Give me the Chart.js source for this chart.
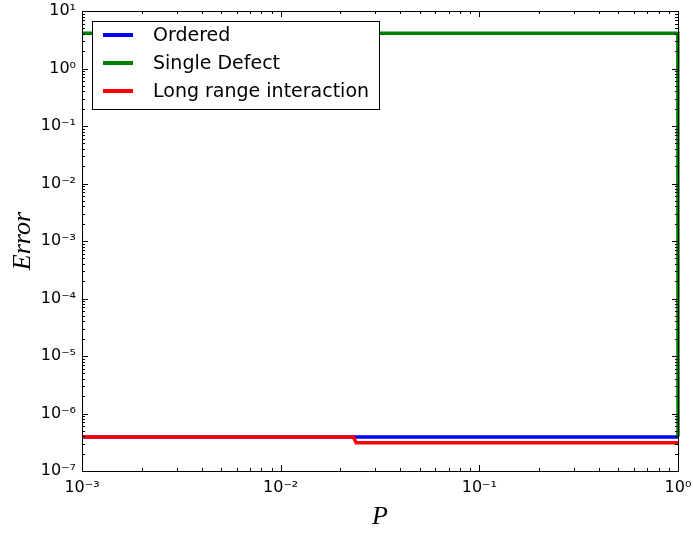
<!DOCTYPE html>
<html><head><meta charset="utf-8">
<script src="https://cdn.jsdelivr.net/npm/chart.js@4/dist/chart.umd.min.js"></script>
<style>html,body{margin:0;padding:0;background:#fff}#wrap{width:693px;height:533px}</style>
</head><body><div id="wrap"><canvas id="c" width="693" height="533"></canvas></div>
<script>
const seriesNames = ["Ordered", "Single Defect", "Long range interaction"];
const seriesColors = ["#0000ff", "#008000", "#ff0000"];
const P_ordered = [1e-3, 1];
const E_ordered = [3.9e-7, 3.9e-7];
const P_single = [1e-3, 0.998, 1];
const E_single = [4.1, 4.1, 4.0e-7];
const P_long = [1e-3, 0.0232, 0.0240, 1];
const E_long = [3.9e-7, 3.9e-7, 3.1e-7, 3.1e-7];
const xDecades = [-3, -2, -1, 0];
const yDecades = [-7, -6, -5, -4, -3, -2, -1, 0, 1];

const sup = {"-":"\u207B","0":"\u2070","1":"\u00B9","2":"\u00B2","3":"\u00B3","4":"\u2074","5":"\u2075","6":"\u2076","7":"\u2077","8":"\u2078","9":"\u2079"};
function pow10Label(v){const e=Math.round(Math.log10(v));return "10"+String(e).split("").map(c=>sup[c]).join("");}
function pts(xs, ys){return xs.map((x,i)=>({x:x,y:ys[i]}));}

const tickPlugin = {
  id:'innerTicks',
  afterDatasetsDraw(chart){
    const ctx=chart.ctx, a=chart.chartArea, xs=chart.scales.x, ys=chart.scales.y;
    ctx.save();
    ctx.strokeStyle='#000'; ctx.lineWidth=1;
    function minorVals(decs){const out=[];for(let i=0;i<decs.length-1;i++){for(let m=2;m<=9;m++)out.push(m*Math.pow(10,decs[i]));}return out;}
    ctx.beginPath();
    xDecades.forEach(d=>{const px=Math.round(xs.getPixelForValue(Math.pow(10,d)))+0.5;ctx.moveTo(px,a.bottom);ctx.lineTo(px,a.bottom-6);ctx.moveTo(px,a.top);ctx.lineTo(px,a.top+6);});
    minorVals(xDecades).forEach(v=>{const px=Math.round(xs.getPixelForValue(v))+0.5;ctx.moveTo(px,a.bottom);ctx.lineTo(px,a.bottom-3);ctx.moveTo(px,a.top);ctx.lineTo(px,a.top+3);});
    yDecades.forEach(d=>{const py=Math.round(ys.getPixelForValue(Math.pow(10,d)))+0.5;ctx.moveTo(a.left,py);ctx.lineTo(a.left+6,py);ctx.moveTo(a.right,py);ctx.lineTo(a.right-6,py);});
    minorVals(yDecades).forEach(v=>{const py=Math.round(ys.getPixelForValue(v))+0.5;ctx.moveTo(a.left,py);ctx.lineTo(a.left+3,py);ctx.moveTo(a.right,py);ctx.lineTo(a.right-3,py);});
    ctx.stroke();
    ctx.strokeRect(Math.round(a.left)+0.5, Math.round(a.top)+0.5, Math.round(a.right-a.left), Math.round(a.bottom-a.top));
    const lx=a.left+10, ly=a.top+10, lw=287, lh=88;
    ctx.fillStyle='#fff'; ctx.fillRect(lx,ly,lw,lh);
    ctx.strokeRect(Math.round(lx)+0.5, Math.round(ly)+0.5, lw, lh);
    ctx.font='19px "DejaVu Sans"'; ctx.textBaseline='middle'; ctx.textAlign='left';
    chart.data.datasets.forEach((ds,i)=>{
      const cy=ly+14+28*i;
      ctx.strokeStyle=ds.borderColor; ctx.lineWidth=4;
      ctx.beginPath(); ctx.moveTo(lx+11,cy); ctx.lineTo(lx+41,cy); ctx.stroke();
      ctx.fillStyle='#000'; ctx.fillText(ds.label, lx+61, cy+1);
    });
    ctx.restore();
  }
};

new Chart(document.getElementById('c'), {
  type:'line',
  data:{datasets:[
    {label:seriesNames[0], data:pts(P_ordered,E_ordered), borderColor:seriesColors[0], order:2},
    {label:seriesNames[1], data:pts(P_single,E_single), borderColor:seriesColors[1], order:1},
    {label:seriesNames[2], data:pts(P_long,E_long), borderColor:seriesColors[2], order:0}
  ]},
  options:{
    responsive:false, animation:false, events:[],
    layout:{padding:{left:0,right:15,top:11,bottom:0}},
    elements:{line:{borderWidth:3.5,tension:0,fill:false}, point:{radius:0}},
    datasets:{line:{clip:false}},
    plugins:{legend:{display:false}, tooltip:{enabled:false}},
    scales:{
      x:{type:'logarithmic', min:1e-3, max:1,
        afterBuildTicks(s){s.ticks=xDecades.map(d=>({value:Math.pow(10,d)}));},
        afterFit(s){s.height=62; s.paddingLeft=0; s.paddingRight=0;},
        grid:{display:false, drawTicks:false}, border:{display:false},
        ticks:{autoSkip:false, maxRotation:0, padding:7, color:'#000', font:{family:'DejaVu Sans', size:16}, callback:(v)=>pow10Label(v)},
        title:{display:true, text:'P', color:'#000', font:{family:'Liberation Serif', size:26, style:'italic'}, padding:{top:0,bottom:0}}
      },
      y:{type:'logarithmic', min:1e-7, max:10,
        afterBuildTicks(s){s.ticks=yDecades.map(d=>({value:Math.pow(10,d)}));},
        afterFit(s){s.width=82; s.paddingTop=0; s.paddingBottom=0;},
        grid:{display:false, drawTicks:false}, border:{display:false},
        ticks:{autoSkip:false, padding:6, color:'#000', font:{family:'DejaVu Sans', size:16}, callback:(v)=>pow10Label(v)},
        title:{display:true, text:'Error', color:'#000', font:{family:'Liberation Serif', size:26, style:'italic'}, padding:{top:8,bottom:0}}
      }
    }
  },
  plugins:[tickPlugin]
});
</script></body></html>
